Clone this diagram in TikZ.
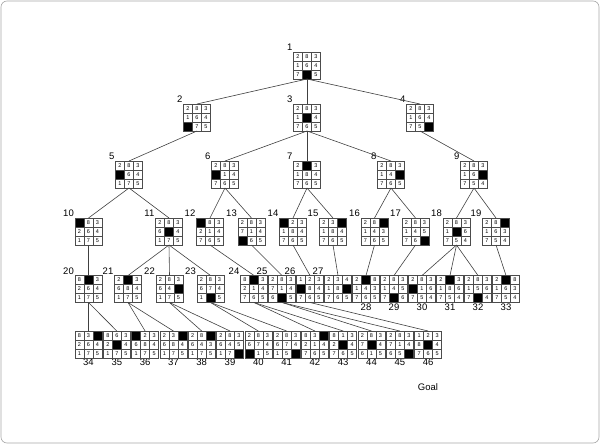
\documentclass[tikz,border=0pt]{standalone}
\usepackage{fontspec}
\setmainfont{Liberation Sans}
\usepackage{tikz}
\usetikzlibrary{calc}

% one 3x3 board: name, centre, label, tiles (0 = blank)
\newcommand\puzzle[4]{%
  \node[board, label={#3}] (#1) at (#2) {};
  \foreach \t [count=\k from 0] in {#4}{%
    \pgfmathtruncatemacro\prow{div(\k,3)}%
    \pgfmathtruncatemacro\pcol{mod(\k,3)}%
    \ifnum\t=0
      \node[tile, fill=black] at ($(#1.north west)+(\pcol*9+4.5,\prow*9+4.5)$) {};
    \else
      \node[tile] at ($(#1.north west)+(\pcol*9+4.5,\prow*9+4.5)$) {\t};
    \fi
  }%
}

\begin{document}
\begin{tikzpicture}[
    x=1pt, y=-1pt,
    board/.style={rectangle, minimum size=27pt, inner sep=0pt, outer sep=0pt},
    tile/.style={draw=black!70, line width=0.5pt, rectangle, minimum size=9pt, inner sep=0pt, outer sep=0pt, font=\fontsize{5.5}{6}\selectfont},
    every label/.style={font=\fontsize{9.5}{11}\selectfont, inner sep=1pt},
    label distance=0pt,
    edge/.style={draw=black!75, line width=0.6pt}
]
\useasboundingbox (0,0) rectangle (600,444);
\draw[black!35, line width=0.6pt, rounded corners=6pt] (1,1) rectangle (599,443);

% level 0 to 2
\puzzle{n1}{307,65.5}{north west:1}{2,8,3,1,6,4,7,0,5}
\puzzle{n2}{197,117.5}{north west:2}{2,8,3,1,6,4,0,7,5}
\puzzle{n3}{307,117.5}{north west:3}{2,8,3,1,0,4,7,6,5}
\puzzle{n4}{420,117.5}{north west:4}{2,8,3,1,6,4,7,5,0}
\puzzle{n5}{129,174.5}{north west:5}{2,8,3,0,6,4,1,7,5}
\puzzle{n6}{225,174.5}{north west:6}{2,8,3,0,1,4,7,6,5}
\puzzle{n7}{307,174.5}{north west:7}{2,0,3,1,8,4,7,6,5}
\puzzle{n8}{391,174.5}{north west:8}{2,8,3,1,4,0,7,6,5}
\puzzle{n9}{474,174.5}{north west:9}{2,8,3,1,6,0,7,5,4}

% level 3
\puzzle{n10}{88.5,231.5}{north west:10}{0,8,3,2,6,4,1,7,5}
\puzzle{n11}{169,231.5}{north west:11}{2,8,3,6,0,4,1,7,5}
\puzzle{n12}{210,231.5}{north west:12}{0,8,3,2,1,4,7,6,5}
\puzzle{n13}{251.5,231.5}{north west:13}{2,8,3,7,1,4,0,6,5}
\puzzle{n14}{293,231.5}{north west:14}{0,2,3,1,8,4,7,6,5}
\puzzle{n15}{333,231.5}{north west:15}{2,3,0,1,8,4,7,6,5}
\puzzle{n16}{374.5,231.5}{north west:16}{2,8,0,1,4,3,7,6,5}
\puzzle{n17}{415.5,231.5}{north west:17}{2,8,3,1,4,5,7,6,0}
\puzzle{n18}{456.5,231.5}{north west:18}{2,8,3,1,0,6,7,5,4}
\puzzle{n19}{496,231.5}{north west:19}{2,8,0,1,6,3,7,5,4}

% level 4
\puzzle{n20}{88.5,289}{north west:20}{8,0,3,2,6,4,1,7,5}
\puzzle{n21}{128,289}{north west:21}{2,0,3,6,8,4,1,7,5}
\puzzle{n22}{169.5,289}{north west:22}{2,8,3,6,4,0,1,7,5}
\puzzle{n23}{210.5,289}{north west:23}{2,8,3,6,7,4,1,0,5}
\puzzle{n24}{254,289}{north west:24}{8,0,3,2,1,4,7,6,5}
\puzzle{n25}{282,289}{north west:25}{2,8,3,7,1,4,6,0,5}
\puzzle{n26}{310,289}{north west:26}{1,2,3,0,8,4,7,6,5}
\puzzle{n27}{338,289}{north west:27}{2,3,4,1,8,0,7,6,5}
\puzzle{n28}{366,289}{below:28}{2,0,8,1,4,3,7,6,5}
\puzzle{n29}{394,289}{below:29}{2,8,3,1,4,5,7,0,6}
\puzzle{n30}{422,289}{below:30}{2,8,3,0,1,6,7,5,4}
\puzzle{n31}{450,289}{below:31}{2,0,3,1,8,6,7,5,4}
\puzzle{n32}{478,289}{below:32}{2,8,3,1,5,6,7,0,4}
\puzzle{n33}{506,289}{below:33}{2,0,8,1,6,3,7,5,4}

% level 5
\puzzle{n34}{88.5,344.5}{below:34}{8,3,0,2,6,4,1,7,5}
\puzzle{n35}{116.8,344.5}{below:35}{8,6,3,2,0,4,1,7,5}
\puzzle{n36}{145.1,344.5}{below:36}{0,2,3,6,8,4,1,7,5}
\puzzle{n37}{173.4,344.5}{below:37}{2,3,0,6,8,4,1,7,5}
\puzzle{n38}{201.7,344.5}{below:38}{2,8,0,6,4,3,1,7,5}
\puzzle{n39}{230,344.5}{below:39}{2,8,3,6,4,5,1,7,0}
\puzzle{n40}{258.3,344.5}{below:40}{2,8,3,6,7,4,0,1,5}
\puzzle{n41}{286.6,344.5}{below:41}{2,8,3,6,7,4,1,5,0}
\puzzle{n42}{314.9,344.5}{below:42}{8,3,0,2,1,4,7,6,5}
\puzzle{n43}{343.2,344.5}{below:43}{8,1,3,2,0,4,7,6,5}
\puzzle{n44}{371.5,344.5}{below:44}{2,8,3,7,0,4,6,1,5}
\puzzle{n45}{399.8,344.5}{below:45}{2,8,3,7,1,4,6,5,0}
\puzzle{n46}{428.1,344.5}{below:46}{1,2,3,8,0,4,7,6,5}

\node[font=\fontsize{9.5}{11}\selectfont] (goal) at (428,387) {Goal};

% tree edges
\draw[edge] (n1.south) -- (n2.north);
\draw[edge] (n1.south) -- (n3.north);
\draw[edge] (n1.south) -- (n4.north);
\draw[edge] (n2.south) -- (n5.north);
\draw[edge] (n3.south) -- (n6.north);
\draw[edge] (n3.south) -- (n7.north);
\draw[edge] (n3.south) -- (n8.north);
\draw[edge] (n4.south) -- (n9.north);
\draw[edge] (n5.south) -- (n10.north);
\draw[edge] (n5.south) -- (n11.north);
\draw[edge] (n6.south) -- (n12.north);
\draw[edge] (n6.south) -- (n13.north);
\draw[edge] (n7.south) -- (n14.north);
\draw[edge] (n7.south) -- (n15.north);
\draw[edge] (n8.south) -- (n16.north);
\draw[edge] (n8.south) -- (n17.north);
\draw[edge] (n9.south) -- (n18.north);
\draw[edge] (n9.south) -- (n19.north);
\draw[edge] (n10.south) -- (n20.north);
\draw[edge] (n11.south) -- (n21.north);
\draw[edge] (n11.south) -- (n22.north);
\draw[edge] (n11.south) -- (n23.north);
\draw[edge] (n12.south) -- (n24.north);
\draw[edge] (n13.south) -- (n25.north);
\draw[edge] (n14.south) -- (n26.north);
\draw[edge] (n15.south) -- (n27.north);
\draw[edge] (n16.south) -- (n28.north);
\draw[edge] (n17.south) -- (n29.north);
\draw[edge] (n18.south) -- (n30.north);
\draw[edge] (n18.south) -- (n31.north);
\draw[edge] (n18.south) -- (n32.north);
\draw[edge] (n19.south) -- (n33.north);
\draw[edge] (n20.south) -- (n34.north);
\draw[edge] (n20.south) -- (n35.north);
\draw[edge] (n21.south) -- (n36.north);
\draw[edge] (n21.south) -- (n37.north);
\draw[edge] (n22.south) -- (n38.north);
\draw[edge] (n22.south) -- (n39.north);
\draw[edge] (n23.south) -- (n40.north);
\draw[edge] (n23.south) -- (n41.north);
\draw[edge] (n24.south) -- (n42.north);
\draw[edge] (n24.south) -- (n43.north);
\draw[edge] (n25.south) -- (n44.north);
\draw[edge] (n25.south) -- (n45.north);
\draw[edge] (n26.south) -- (n46.north);
\end{tikzpicture}
\end{document}
